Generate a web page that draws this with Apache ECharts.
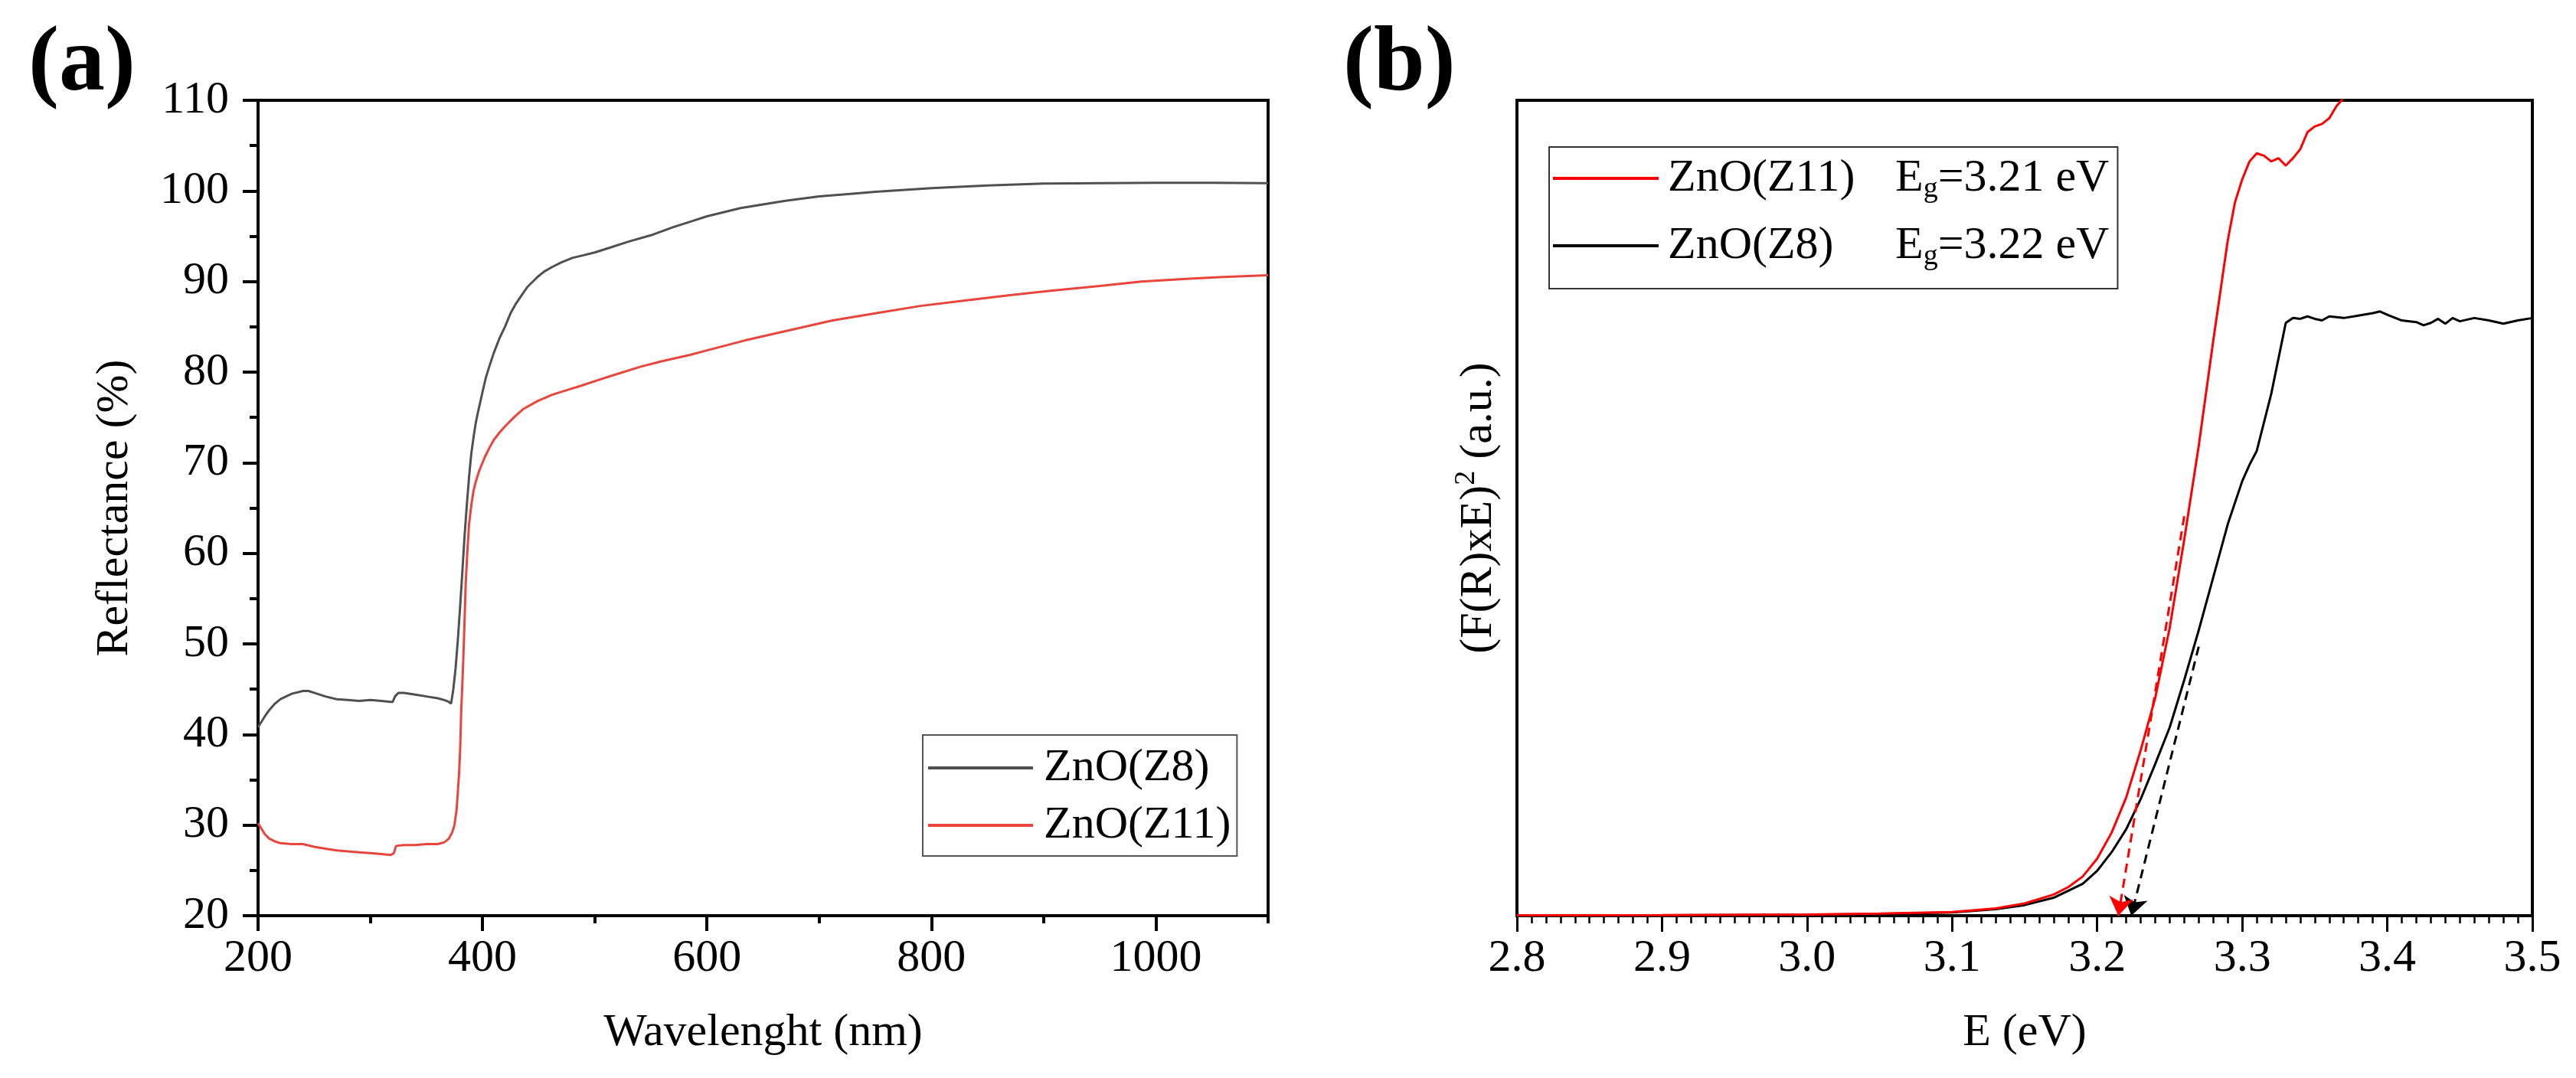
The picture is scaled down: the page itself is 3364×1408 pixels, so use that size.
<!DOCTYPE html>
<html>
<head>
<meta charset="utf-8">
<script src="https://cdn.jsdelivr.net/npm/echarts@6/dist/echarts.min.js"></script>
<style>
  html, body { margin: 0; padding: 0; background: #fff; }
  #main { width: 3364px; height: 1408px; }
</style>
</head>
<body>
<div id="main"></div>
<script>
// (a) diffuse reflectance
var z8Wave = [200, 203, 206, 210, 215, 220, 230, 240, 245, 250, 260, 270, 280, 290, 300, 310, 318, 320, 322, 325, 330, 340, 350, 360, 366, 370, 372, 374, 376, 378, 380, 382, 384, 386, 388, 390, 392, 394, 396, 398, 400, 403, 406, 410, 415, 420, 425, 430, 436, 440, 449, 455, 462, 470, 480, 490, 500, 515, 530, 550, 570, 585, 600, 630, 650, 670, 700, 730, 750, 800, 850, 900, 950, 1000, 1050, 1100];
var z8Refl = [40.8, 41.4, 42.0, 42.7, 43.4, 43.9, 44.5, 44.8, 44.8, 44.6, 44.2, 43.9, 43.8, 43.7, 43.8, 43.7, 43.6, 43.6, 44.2, 44.6, 44.6, 44.4, 44.2, 44.0, 43.8, 43.6, 43.4, 45.0, 47.3, 50.4, 54.0, 57.9, 61.9, 65.3, 68.4, 71.0, 72.8, 74.4, 75.6, 76.7, 77.8, 79.4, 80.6, 82.1, 83.7, 85.0, 86.5, 87.6, 88.7, 89.4, 90.5, 91.1, 91.6, 92.1, 92.6, 92.9, 93.2, 93.8, 94.4, 95.1, 96.0, 96.6, 97.2, 98.1, 98.5, 98.9, 99.4, 99.7, 99.9, 100.3, 100.6, 100.8, 100.85, 100.9, 100.9, 100.85];
var z11Wave = [200, 203, 206, 210, 215, 220, 230, 240, 250, 260, 270, 280, 290, 300, 310, 318, 321, 323, 330, 340, 350, 360, 366, 370, 373, 375, 377, 379, 380, 381, 382.6, 384, 385, 386.5, 388, 390, 392, 394, 397, 402, 406, 410, 415, 420, 428, 436, 449, 462, 475, 488, 500, 515, 541, 560, 585, 600, 634, 673, 712, 751, 790, 830, 870, 908, 950, 987, 1030, 1060, 1100];
var z11Refl = [30.2, 29.6, 29.0, 28.5, 28.2, 28.0, 27.9, 27.9, 27.6, 27.4, 27.2, 27.1, 27.0, 26.9, 26.8, 26.7, 26.9, 27.7, 27.8, 27.8, 27.9, 27.9, 28.1, 28.5, 29.2, 30.0, 31.8, 35.5, 38.0, 42.5, 47.3, 52.5, 56.6, 60.2, 63.2, 65.3, 66.9, 67.9, 69.1, 70.6, 71.6, 72.5, 73.3, 74.0, 75.0, 75.9, 76.8, 77.5, 78.0, 78.5, 79.0, 79.6, 80.6, 81.2, 81.9, 82.4, 83.5, 84.6, 85.7, 86.5, 87.3, 87.9, 88.5, 89.0, 89.5, 90.0, 90.3, 90.5, 90.7];
var wavelengthTicks = [200, 400, 600, 800, 1000];
var wavelengthMinorTicks = [300, 500, 700, 900, 1100];

// (b) (F(R)xE)^2, arbitrary units (0..100 = bottom..top of the frame)
var z11Energy = [2.8, 2.9, 3.0, 3.05, 3.1, 3.13, 3.15, 3.17, 3.18, 3.19, 3.2, 3.21, 3.22, 3.23, 3.24, 3.25, 3.26, 3.27, 3.28, 3.29, 3.295, 3.3, 3.305, 3.31, 3.315, 3.32, 3.325, 3.33, 3.335, 3.34, 3.345, 3.35, 3.355, 3.36, 3.365, 3.37, 3.375, 3.38];
var z11Tauc = [0.05, 0.08, 0.15, 0.25, 0.45, 0.9, 1.5, 2.6, 3.5, 4.8, 7.0, 10.2, 14.5, 20.3, 26.7, 35.3, 46.1, 57.6, 70.5, 82.8, 87.5, 90.3, 92.5, 93.5, 93.2, 92.5, 92.9, 92.0, 92.9, 94.0, 96.1, 96.8, 97.1, 97.8, 99.3, 100.3, 102, 104];
var z8Energy = [2.8, 2.9, 3.0, 3.05, 3.1, 3.13, 3.15, 3.17, 3.19, 3.2, 3.21, 3.22, 3.23, 3.24, 3.25, 3.26, 3.27, 3.28, 3.29, 3.3, 3.305, 3.31, 3.32, 3.33, 3.335, 3.34, 3.345, 3.35, 3.355, 3.36, 3.37, 3.38, 3.39, 3.395, 3.4, 3.41, 3.42, 3.425, 3.43, 3.435, 3.44, 3.445, 3.45, 3.46, 3.47, 3.48, 3.49, 3.5];
var z8Tauc = [0.03, 0.05, 0.12, 0.22, 0.4, 0.8, 1.3, 2.2, 3.9, 5.5, 7.8, 10.6, 14.3, 18.6, 23.1, 28.9, 35.0, 41.5, 48.0, 53.3, 55.3, 57.0, 64.0, 72.7, 73.3, 73.2, 73.5, 73.2, 73.0, 73.5, 73.3, 73.6, 73.9, 74.1, 73.7, 73.0, 72.8, 72.4, 72.7, 73.2, 72.6, 73.3, 72.9, 73.3, 73.0, 72.6, 73.0, 73.3];
// tangent extrapolations to the energy axis
var z11Tangent = [[3.26, 49], [3.2146, 0]];
var z8Tangent = [[3.27, 33], [3.2235, 0]];

function pairs(xs, ys) {
  return xs.map(function (x, i) { return [x, ys[i]]; });
}

var serif = "'Liberation Serif', 'Times New Roman', 'DejaVu Serif', serif";
var grayLine = '#505050';
var lightRed = '#e8453c';

var chart = echarts.init(document.getElementById('main'), null, { renderer: 'canvas' });

var option = {
  animation: false,
  backgroundColor: '#fff',
  textStyle: { fontFamily: serif, color: '#000' },
  title: [
    { text: '(a)', left: 37, top: 26, padding: 0,
      textStyle: { fontFamily: serif, fontSize: 120, fontWeight: 'bold', color: '#000' } },
    { text: '(b)', left: 1754, top: 26, padding: 0,
      textStyle: { fontFamily: serif, fontSize: 120, fontWeight: 'bold', color: '#000' } }
  ],
  grid: [
    { left: 337, top: 131, width: 1319, height: 1065, show: true,
      borderColor: '#000', borderWidth: 4, backgroundColor: 'transparent' },
    { left: 1981, top: 131, width: 1326, height: 1065, show: true,
      borderColor: '#000', borderWidth: 4, backgroundColor: 'transparent' }
  ],
  legend: [
    {
      orient: 'vertical', left: 1205, top: 960,
      padding: [13, 8, 10, 7], itemGap: 15,
      itemWidth: 137, itemHeight: 4, icon: 'rect',
      borderColor: '#555', borderWidth: 2, backgroundColor: '#fff',
      data: ['ZnO(Z8)', 'ZnO(Z11)'],
      textStyle: { fontFamily: serif, fontSize: 60, lineHeight: 60, color: '#000', padding: [0, 0, 0, 9] }
    },
    {
      orient: 'vertical', left: 2023, top: 192,
      padding: [8, 11, 23, 5], itemGap: 22,
      itemWidth: 138, itemHeight: 4, icon: 'rect',
      borderColor: '#333', borderWidth: 2, backgroundColor: '#fff',
      data: ['ZnO(Z11) ', 'ZnO(Z8) '],
      formatter: function (name) {
        var eg = name === 'ZnO(Z11) ' ? '=3.21 eV' : '=3.22 eV';
        return '{n|' + name.trim() + '}{e|E}{sub|g}{e|' + eg + '}';
      },
      textStyle: {
        fontFamily: serif, fontSize: 60, lineHeight: 66, color: '#000', padding: [0, 0, 0, 7],
        rich: {
          n: { fontFamily: serif, fontSize: 60, lineHeight: 66, width: 297 },
          e: { fontFamily: serif, fontSize: 60, lineHeight: 66 },
          sub: { fontFamily: serif, fontSize: 38, lineHeight: 30, verticalAlign: 'bottom' }
        }
      }
    }
  ],
  xAxis: [
    {
      gridIndex: 0, type: 'value', position: 'bottom', min: 200, max: 1100, interval: 200,
      name: 'Wavelenght (nm)', nameLocation: 'middle', nameGap: 123,
      nameTextStyle: { fontFamily: serif, fontSize: 60, color: '#000' },
      axisLine: { show: true, onZero: false, lineStyle: { color: '#000', width: 4 } },
      axisTick: { show: true, length: 20, customValues: wavelengthTicks, lineStyle: { color: '#000', width: 4 } },
      axisLabel: { show: true, margin: 26, customValues: wavelengthTicks,
        fontFamily: serif, fontSize: 60, color: '#000',
        formatter: function (v) { return v === 1100 ? '' : String(v); } },
      splitLine: { show: false }
    },
    {
      gridIndex: 0, type: 'value', position: 'bottom', offset: 0, min: 200, max: 1100, interval: 100,
      axisLine: { show: false },
      axisTick: { show: true, length: 10, customValues: wavelengthMinorTicks, lineStyle: { color: '#000', width: 4 } },
      axisLabel: { show: false },
      splitLine: { show: false }
    },
    {
      gridIndex: 1, type: 'value', position: 'bottom', min: 2.8, max: 3.5, interval: 0.1,
      name: 'E (eV)', nameLocation: 'middle', nameGap: 123,
      nameTextStyle: { fontFamily: serif, fontSize: 60, color: '#000' },
      axisLine: { show: true, onZero: false, lineStyle: { color: '#000', width: 4 } },
      axisTick: { show: true, length: 21, lineStyle: { color: '#000', width: 3 } },
      minorTick: { show: true, splitNumber: 10, length: 10, lineStyle: { color: '#000', width: 2.5 } },
      axisLabel: { show: true, margin: 26, fontFamily: serif, fontSize: 60, color: '#000',
        formatter: function (v) { return v.toFixed(1); } },
      splitLine: { show: false },
      minorSplitLine: { show: false }
    }
  ],
  yAxis: [
    {
      gridIndex: 0, type: 'value', min: 20, max: 110, interval: 10,
      name: 'Reflectance (%)', nameLocation: 'middle', nameGap: 157, nameRotate: 90,
      nameTextStyle: { fontFamily: serif, fontSize: 60, color: '#000' },
      axisLine: { show: true, onZero: false, lineStyle: { color: '#000', width: 4 } },
      axisTick: { show: true, length: 20, lineStyle: { color: '#000', width: 4 } },
      minorTick: { show: true, splitNumber: 2, length: 11, lineStyle: { color: '#000', width: 4 } },
      axisLabel: { show: true, margin: 38, fontFamily: serif, fontSize: 60, color: '#000' },
      splitLine: { show: false },
      minorSplitLine: { show: false }
    },
    {
      gridIndex: 1, type: 'value', min: 0, max: 100,
      name: '(F(R)xE){sup|2} (a.u.)', nameLocation: 'middle', nameGap: 15, nameRotate: 90,
      nameTextStyle: {
        fontFamily: serif, fontSize: 60, lineHeight: 70, color: '#000',
        rich: { sup: { fontFamily: serif, fontSize: 38, lineHeight: 30, verticalAlign: 'top' } }
      },
      axisLine: { show: true, onZero: false, lineStyle: { color: '#000', width: 4 } },
      axisTick: { show: false },
      axisLabel: { show: false },
      splitLine: { show: false }
    }
  ],
  series: [
    {
      name: 'ZnO(Z8)', type: 'line', xAxisIndex: 0, yAxisIndex: 0,
      data: pairs(z8Wave, z8Refl), showSymbol: false, symbol: 'none',
      lineStyle: { color: grayLine, width: 3 }, itemStyle: { color: grayLine }
    },
    {
      name: 'ZnO(Z11)', type: 'line', xAxisIndex: 0, yAxisIndex: 0,
      data: pairs(z11Wave, z11Refl), showSymbol: false, symbol: 'none',
      lineStyle: { color: lightRed, width: 3 }, itemStyle: { color: lightRed }
    },
    {
      name: 'ZnO(Z8) ', type: 'line', xAxisIndex: 2, yAxisIndex: 1,
      data: pairs(z8Energy, z8Tauc), showSymbol: false, symbol: 'none', clip: true,
      lineStyle: { color: '#000', width: 3 }, itemStyle: { color: '#000' },
      markLine: {
        silent: true, symbol: ['none', 'arrow'], symbolSize: 24,
        label: { show: false },
        lineStyle: { color: '#000', width: 3, type: [12, 8] },
        data: [[{ coord: z8Tangent[0] }, { coord: z8Tangent[1] }]]
      }
    },
    {
      name: 'ZnO(Z11) ', type: 'line', xAxisIndex: 2, yAxisIndex: 1,
      data: pairs(z11Energy, z11Tauc), showSymbol: false, symbol: 'none', clip: true,
      lineStyle: { color: '#f00', width: 3 }, itemStyle: { color: '#f00' },
      markLine: {
        silent: true, symbol: ['none', 'arrow'], symbolSize: 24,
        label: { show: false },
        lineStyle: { color: '#f00', width: 3, type: [12, 8] },
        data: [[{ coord: z11Tangent[0] }, { coord: z11Tangent[1] }]]
      }
    }
  ]
};

chart.setOption(option);
</script>
</body>
</html>
